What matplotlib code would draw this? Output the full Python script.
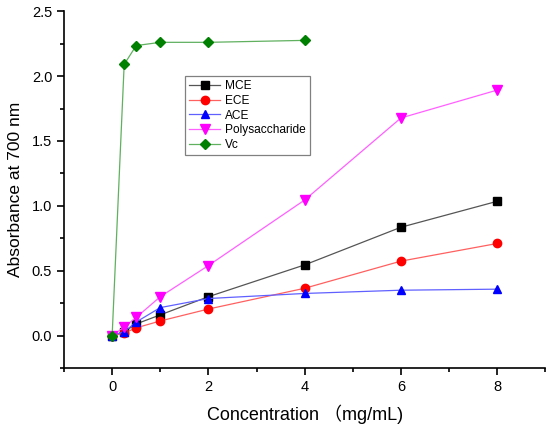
import matplotlib
matplotlib.use("Agg")
import matplotlib.pyplot as plt
from matplotlib.ticker import MultipleLocator

conc = [0, 0.25, 0.5, 1, 2, 4, 6, 8]
conc_vc = [0, 0.25, 0.5, 1, 2, 4]
mce = [0, 0.03, 0.09, 0.16, 0.30, 0.545, 0.835, 1.035]
ece = [0, 0.02, 0.06, 0.113, 0.205, 0.365, 0.574, 0.71]
ace = [0, 0.03, 0.105, 0.216, 0.286, 0.325, 0.35, 0.358]
poly = [0, 0.066, 0.14, 0.30, 0.54, 1.045, 1.677, 1.892]
vc = [0, 2.09, 2.235, 2.26, 2.26, 2.275]

plt.rcParams['font.family'] = ['Liberation Sans', 'Noto Sans CJK SC', 'DejaVu Sans']

fig = plt.figure(figsize=(5.5, 4.3), dpi=100)
ax = fig.add_axes([0.1164, 0.144, 0.875, 0.830])

series = [
    (conc, mce, 'MCE', 's', 'black', '#555555', 5.5),
    (conc, ece, 'ECE', 'o', 'red', '#ff6060', 6),
    (conc, ace, 'ACE', '^', 'blue', '#6060ff', 6),
    (conc, poly, 'Polysaccharide', 'v', 'magenta', '#ff60ff', 6.5),
    (conc_vc, vc, 'Vc', 'D', 'green', '#60b060', 5),
]
for x, y, lab, m, c, lc, ms in series:
    ax.plot(x, y, color=lc, lw=0.9, marker=m, ms=ms, mfc=c, mec=c, label=lab)

ax.set_xlim(-1, 9)
ax.set_ylim(-0.25, 2.5)
ax.xaxis.set_major_locator(MultipleLocator(2))
ax.xaxis.set_minor_locator(MultipleLocator(1))
ax.yaxis.set_major_locator(MultipleLocator(0.5))
ax.yaxis.set_minor_locator(MultipleLocator(0.25))
ax.yaxis.set_major_formatter(matplotlib.ticker.FormatStrFormatter('%.1f'))
ax.spines['top'].set_visible(False)
ax.spines['right'].set_visible(False)
for s in ('left', 'bottom'):
    ax.spines[s].set_linewidth(1.2)
ax.tick_params(which='major', direction='out', length=5, width=1.2, labelsize=10.5)
ax.tick_params(which='minor', direction='out', length=3, width=1.2)

ax.set_xlabel('Concentration （mg/mL)', fontsize=13, labelpad=8)
ax.set_ylabel('Absorbance at 700 nm', fontsize=12.5, labelpad=6)

leg = ax.legend(loc='upper left', bbox_to_anchor=(0.2516, 0.818), borderaxespad=0,
                fontsize=8.6, frameon=True, fancybox=False, edgecolor='#808080',
                framealpha=1, borderpad=0.35, handlelength=2.6, labelspacing=0.22,
                handletextpad=0.4)
leg.get_frame().set_linewidth(0.9)

fig.savefig('out.png', dpi=100)
